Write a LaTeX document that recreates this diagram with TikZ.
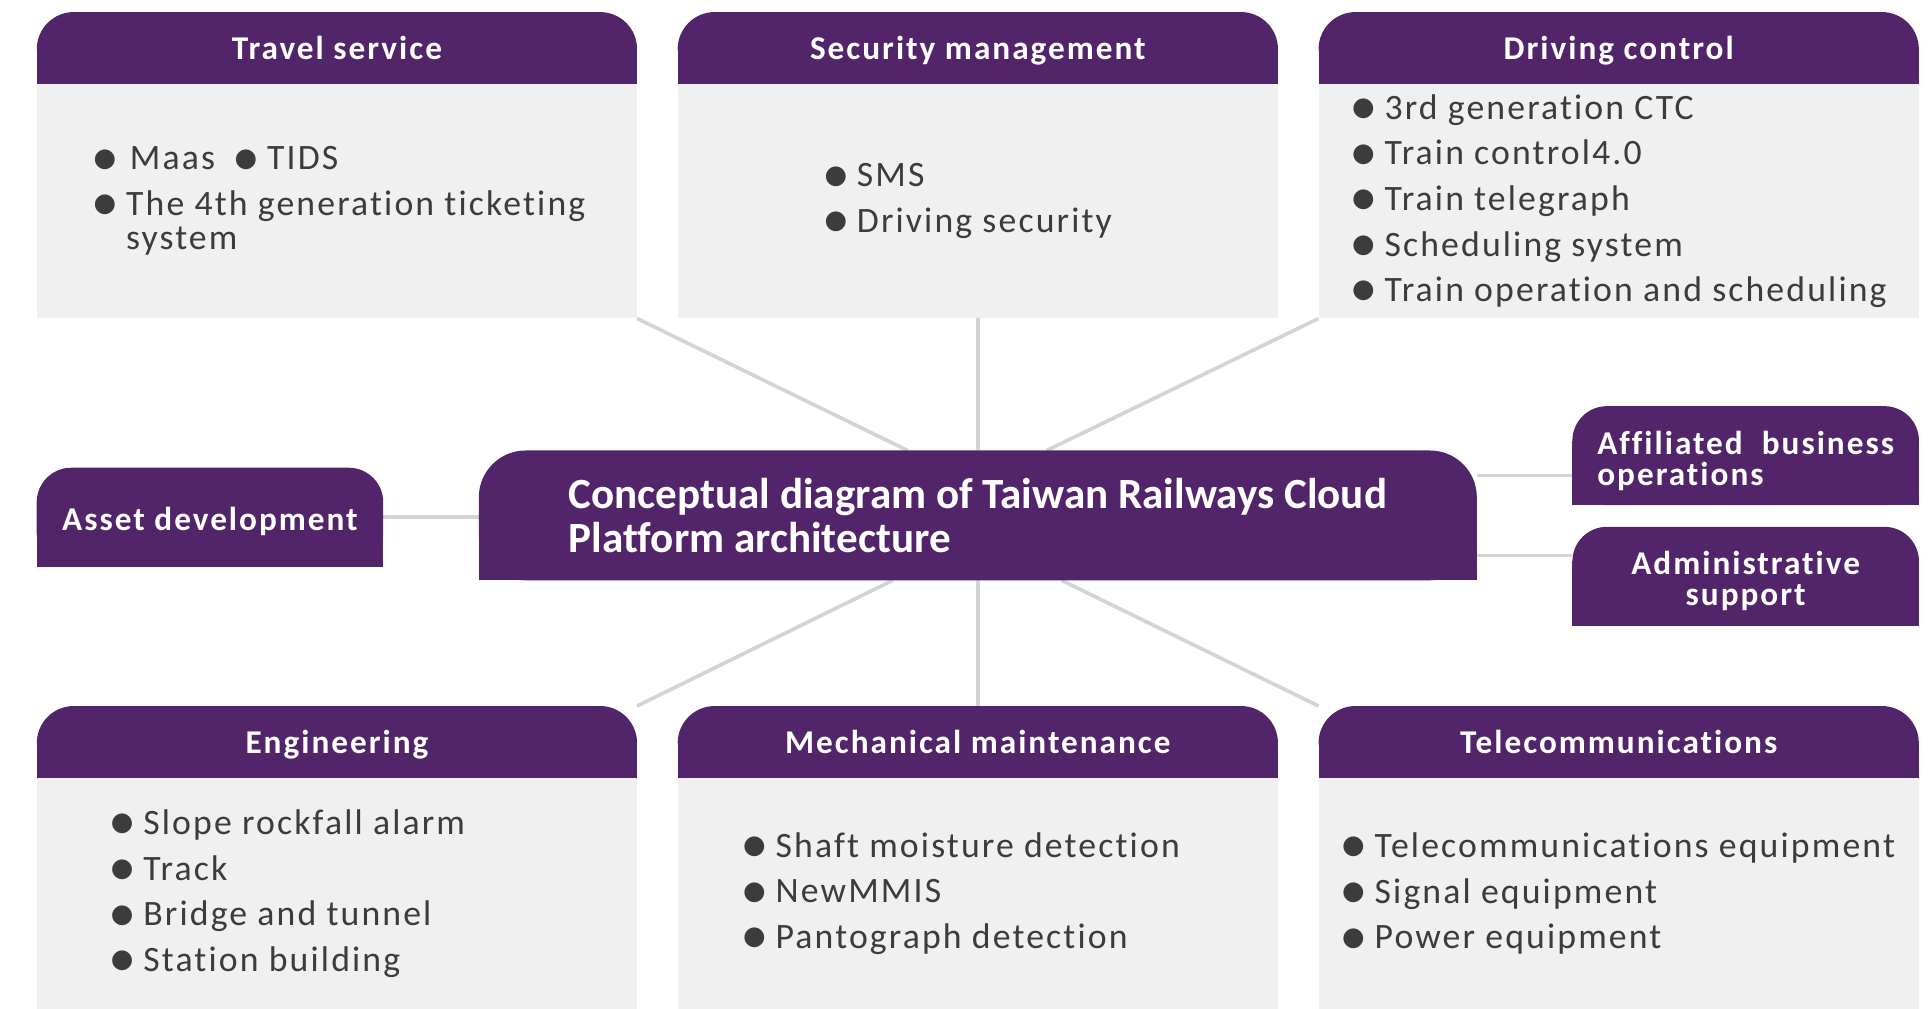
\documentclass[tikz,border=0pt]{standalone}
\usepackage{fontspec}
\setmainfont{Carlito}[LetterSpace=6, Ligatures=NoCommon]
\newfontfamily\titlefont{Carlito}[Ligatures=NoCommon]
\newfontfamily\dotfont{DejaVu Sans}
\usetikzlibrary{positioning, calc, backgrounds}

\definecolor{plum}{HTML}{52256B}
\definecolor{paper}{HTML}{F0F0F0}
\definecolor{ink}{HTML}{3C3C3C}
\definecolor{wire}{HTML}{D4D4D4}

\newcommand{\bl}{{\dotfont\fontsize{21}{21}\selectfont\raisebox{3pt}{●}}\hspace{8pt}}

\begin{document}
\begin{tikzpicture}[x=1pt, y=-1pt,
    hdr/.style={minimum width=487pt, minimum height=58pt, inner sep=0pt, text=white,
      text height=22pt, text depth=3pt, font=\fontsize{27}{30}\selectfont\bfseries},
    body/.style={fill=paper, minimum width=487pt, minimum height=190pt, inner sep=0pt},
    items/.style={inner sep=0pt, align=left, text=ink, font=\fontsize{29}{37}\selectfont},
    tag/.style={minimum width=281pt, minimum height=80pt, inner sep=0pt, text=white,
      font=\fontsize{27}{25}\selectfont\bfseries},
    link/.style={draw=wire, line width=3pt}]

  \useasboundingbox (0,0) rectangle (1568,819);

  \node[hdr] (sec) at (794,39) {Security management};
  \node[hdr, left=33pt of sec] (trav) {Travel service};
  \node[hdr, right=33pt of sec] (drive) {Driving control};
  \node[body, below=0pt of trav] (trav-b) {};
  \node[body, below=0pt of sec] (sec-b) {};
  \node[body, below=0pt of drive] (drive-b) {};

  \node[hdr] (mech) at (794,602.5) {Mechanical maintenance};
  \node[hdr, left=33pt of mech] (eng) {Engineering};
  \node[hdr, right=33pt of mech] (tele) {Telecommunications};
  \node[body, minimum height=187.5pt, below=0pt of eng] (eng-b) {};
  \node[body, minimum height=187.5pt, below=0pt of mech] (mech-b) {};
  \node[body, minimum height=187.5pt, below=0pt of tele] (tele-b) {};

  \node[minimum width=810pt, minimum height=105pt, inner sep=0pt, align=left, text=white,
    font=\titlefont\fontsize{35}{36}\selectfont\bfseries] (core) at (794,418.5)
    {Conceptual diagram of Taiwan Railways Cloud\\Platform architecture};

  \node[tag, text height=26pt] (asset) at (170.5,420) {Asset development};
  \node[tag, align=left] (affil) at (1417.5,370)
    {\rule{0pt}{27pt}Affiliated\ \ business\\operations\rule[-1pt]{0pt}{1pt}};
  \node[tag, align=center] (admin) at (1417.5,468)
    {\rule{0pt}{27pt}Administrative\\support\rule[-1pt]{0pt}{1pt}};

  \node[items, right=46pt of trav-b.west] (trav-i)
    {\bl\hspace{3pt}Maas\hspace{16pt}\bl TIDS\\\bl The 4th generation ticketing\\[-9pt]\phantom{\bl}system};
  \node[items, right=119pt of sec-b.west] (sec-i)
    {\bl SMS\\\bl Driving security};
  \node[items, right=27pt of drive-b.west] (drive-i)
    {\bl 3rd generation CTC\\\bl Train control4.0\\\bl Train telegraph\\\bl Scheduling system\\\bl Train operation and scheduling};
  \node[items, right=60pt of eng-b.west] (eng-i)
    {\bl Slope rockfall alarm\\\bl Track\\\bl Bridge and tunnel\\\bl Station building};
  \node[items, right=53pt of mech-b.west] (mech-i)
    {\bl Shaft moisture detection\\\bl NewMMIS\\\bl Pantograph detection};
  \node[items, right=19pt of tele-b.west] (tele-i)
    {\bl Telecommunications equipment\\\bl Signal equipment\\\bl Power equipment};

  \coordinate (a1) at ([yshift=-16pt]affil.west);
  \coordinate (a2) at ([yshift=17pt]admin.west);

  \begin{scope}[on background layer]
    \draw[link] (trav-b.south east) -- ([xshift=-57pt]core.north);
    \draw[link] (sec-b.south) -- (core.north);
    \draw[link] (drive-b.south west) -- ([xshift=56pt]core.north);
    \draw[link] ([xshift=-69pt]core.south) -- (eng.north east);
    \draw[link] (core.south) -- (mech.north);
    \draw[link] ([xshift=68pt]core.south) -- (tele.north west);
    \draw[link] (asset.east) -- (asset.east -| core.west);
    \draw[link] (a1) -- (a1 -| core.east);
    \draw[link] (a2) -- (a2 -| core.east);
    \foreach \n/\r in {trav/30pt, sec/30pt, drive/30pt, eng/30pt, mech/30pt, tele/30pt,
        asset/28pt, affil/28pt, admin/28pt, core/38pt} {
      \fill[plum, rounded corners=\r] (\n.south west) rectangle (\n.north east);
      \fill[plum] (\n.south west) rectangle ([yshift=-\r]\n.north east);
    }
  \end{scope}
\end{tikzpicture}
\end{document}
